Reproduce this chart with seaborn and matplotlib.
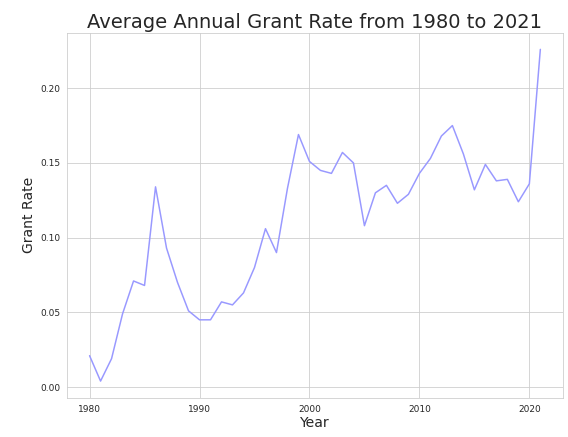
import matplotlib
matplotlib.use('Agg')
import matplotlib.pyplot as plt
import seaborn as sns
import pandas as pd

# Average grant rate per year
years = list(range(1980, 2022))
grant_rate = [0.021, 0.004, 0.019, 0.049, 0.071, 0.068, 0.134, 0.093, 0.070, 0.051,
              0.045, 0.045, 0.057, 0.055, 0.063, 0.080, 0.106, 0.090, 0.133, 0.169,
              0.151, 0.145, 0.143, 0.157, 0.150, 0.108, 0.130, 0.135, 0.123, 0.129,
              0.143, 0.153, 0.168, 0.175, 0.156, 0.132, 0.149, 0.138, 0.139, 0.124,
              0.136, 0.226]

df = pd.DataFrame({'Year': years, 'Grant Rate': grant_rate})

sns.set_style('whitegrid')
fig, ax = plt.subplots(figsize=(568 / 72, 437 / 72), dpi=72)
sns.lineplot(data=df, x='Year', y='Grant Rate', color='#9999ff', ax=ax)
ax.set_title('Average Annual Grant Rate from 1980 to 2021', fontsize=19.5, pad=5)
ax.set_xlabel('Year', fontsize=14, labelpad=2)
ax.set_ylabel('Grant Rate', fontsize=14)
ax.tick_params(labelsize=9)
plt.subplots_adjust(left=0.118, right=0.991, top=0.925, bottom=0.09)
plt.savefig('out.png', dpi=72)
plt.close()
